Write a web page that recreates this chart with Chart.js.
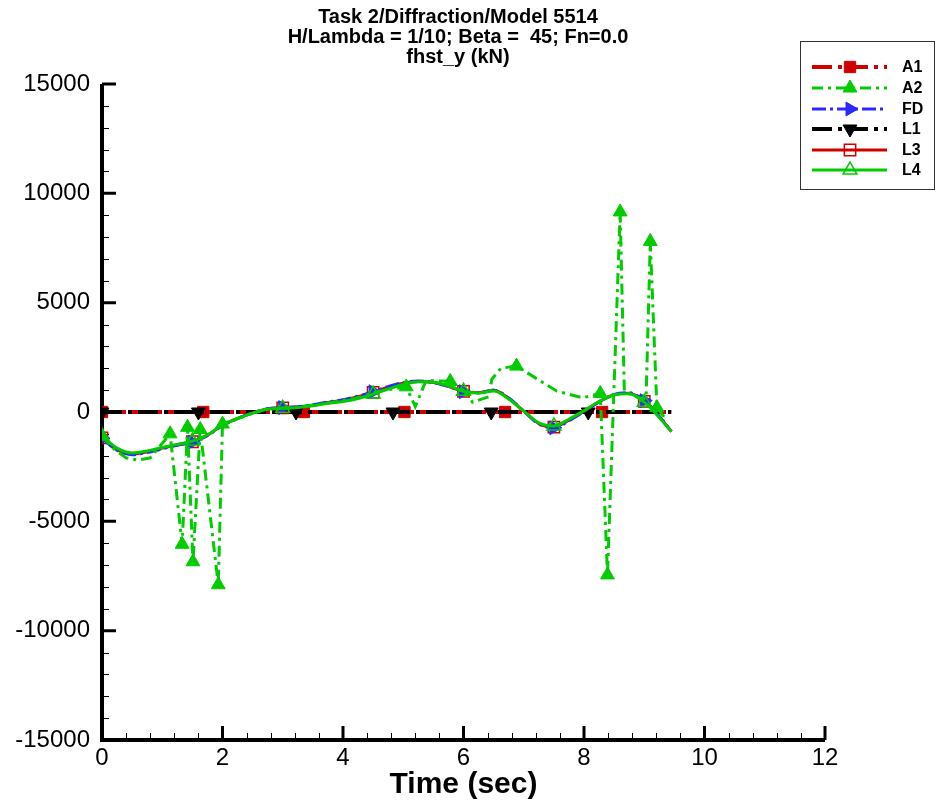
<!DOCTYPE html>
<html>
<head>
<meta charset="utf-8">
<script src="https://cdn.jsdelivr.net/npm/chart.js@4.4.1/dist/chart.umd.min.js"></script>
<style>
html,body{margin:0;padding:0;background:#fff;}
</style>
</head>
<body>
<canvas id="chart" width="937" height="805"></canvas>
<script>
const titleLines = ["Task 2/Diffraction/Model 5514", "H/Lambda = 1/10; Beta =  45; Fn=0.0", "fhst_y (kN)"];
const xTitle = "Time (sec)";
const seriesNames = ["A1", "A2", "FD", "L1", "L3", "L4"];

const xTicks = [0, 2, 4, 6, 8, 10, 12];
const yTicks = [-15000, -10000, -5000, 0, 5000, 10000, 15000];

// flat series
const tA1 = [0, 1.68, 3.35, 5.02, 6.69, 8.3, 9.45];
const valA1 = [0, 0, 0, 0, 0, 0, 0];
const tL1 = [0, 1.6, 3.22, 4.83, 6.46, 8.07, 9.45];
const valL1 = [0, 0, 0, 0, 0, 0, 0];

// A2 with the spikes
const tA2 = [0, 0.2, 0.4, 0.6, 0.8, 0.95, 1.13, 1.33, 1.42, 1.51, 1.63, 1.93, 2.0, 2.3, 2.7, 3.2, 3.7, 4.2, 4.6, 5.05,
  5.2, 5.38, 5.78, 6.0, 6.15, 6.42, 6.47, 6.62, 6.88, 7.2, 7.55, 7.98, 8.27, 8.39, 8.6, 8.67, 8.93, 9.03, 9.1, 9.21, 9.35];
const valA2 = [-1100, -1700, -2100, -2200, -2100, -1600, -1000, -6050, -700, -6850, -800, -7900, -550, -250, 120, 220, 380, 620, 950, 1150,
  250, 1450, 1400, 1000, 450, 700, 1500, 2000, 2100, 1550, 950, 650, 850, -7450, 9150, 900, 640, 600, 7800, 200, -300];

// smooth series
const tSmooth = [0, 0.25, 0.5, 0.75, 1, 1.25, 1.5, 1.75, 2, 2.25, 2.5, 2.75, 3, 3.25, 3.5, 3.75, 4, 4.25, 4.5, 4.75,
  5, 5.25, 5.5, 5.75, 6, 6.25, 6.5, 6.75, 7, 7.25, 7.5, 7.75, 8, 8.25, 8.5, 8.75, 9, 9.25, 9.45];
const valFD = [-1200, -1750, -1950, -1850, -1680, -1520, -1380, -1080, -620, -300, -40, 150, 200, 240, 330, 460, 560, 720, 930, 1160,
  1340, 1420, 1350, 1170, 930, 880, 1000, 640, 40, -550, -720, -400, 20, 460, 800, 880, 520, -200, -880];
const valL3 = [-1180, -1720, -1920, -1820, -1650, -1500, -1360, -1060, -600, -290, -40, 140, 190, 230, 310, 440, 540, 700, 900, 1130,
  1320, 1400, 1350, 1180, 940, 880, 990, 620, 40, -530, -690, -370, 40, 470, 790, 860, 490, -220, -890];
const valL4 = [-1100, -1650, -1870, -1780, -1620, -1480, -1330, -1050, -600, -300, -50, 130, 170, 200, 280, 400, 480, 620, 820, 1050,
  1260, 1380, 1360, 1200, 950, 870, 960, 600, 40, -500, -640, -330, 60, 480, 780, 830, 450, -250, -900];

const RED = "#d00000", GREEN = "#00cc00", BLUE = "#2a2aff", BLACK = "#000000";
const FONT = "'Liberation Sans', Arial, sans-serif";

function pts(ts, vs) {
  return ts.map((t, i) => ({ x: t, y: vs[i] }));
}
function every(n, len) {
  const s = new Set();
  for (let i = 0; i < len; i += n) s.add(i);
  return s;
}
function allButLast(len) {
  const s = new Set();
  for (let i = 0; i < len - 1; i++) s.add(i);
  return s;
}

const a2Marks = new Set([0, 6, 7, 8, 9, 10, 11, 12, 19, 22, 28, 32, 33, 34, 38, 39]);

function series(label, data, color, opts) {
  return Object.assign({
    label,
    data,
    borderColor: color,
    backgroundColor: color,
    pointBackgroundColor: color,
    pointBorderColor: color,
    borderWidth: 3,
    pointBorderWidth: 1,
    tension: 0,
    pointRadius: c => (c.dataset.marks.has(c.dataIndex) ? 8 : 0),
    pointHoverRadius: 0
  }, opts);
}

const datasets = [
  series(seriesNames[0], pts(tA1, valA1), RED, {
    borderDash: [20, 6, 4, 6], borderDashOffset: 6, pointStyle: "rect", marks: allButLast(tA1.length), order: 6, borderWidth: 4
  }),
  series(seriesNames[1], pts(tA2, valA2), GREEN, {
    borderDash: [11, 5, 3, 5], pointStyle: "triangle", marks: a2Marks, order: 2
  }),
  series(seriesNames[2], pts(tSmooth, valFD), BLUE, {
    borderDash: [14, 4, 3, 4], pointStyle: "triangle", pointRotation: 90, marks: every(6, tSmooth.length),
    cubicInterpolationMode: "monotone", order: 3
  }),
  series(seriesNames[3], pts(tL1, valL1), BLACK, {
    borderDash: [20, 6, 4, 6], pointStyle: "triangle", pointRotation: 180, marks: allButLast(tL1.length), order: 5, borderWidth: 4
  }),
  series(seriesNames[4], pts(tSmooth, valL3), RED, {
    pointStyle: "rect", pointBackgroundColor: "rgba(0,0,0,0)", pointBorderWidth: 1.5, marks: every(6, tSmooth.length),
    cubicInterpolationMode: "monotone", order: 4
  }),
  series(seriesNames[5], pts(tSmooth, valL4), GREEN, {
    pointStyle: "triangle", pointBackgroundColor: "rgba(0,0,0,0)", pointBorderWidth: 1.5, marks: every(6, tSmooth.length),
    cubicInterpolationMode: "monotone", order: 1
  })
];

const frame = {
  id: "frame",
  beforeDatasetsDraw(chart) {
    const { ctx, chartArea: a, scales: { x, y } } = chart;
    ctx.save();
    ctx.strokeStyle = "#000";
    ctx.lineWidth = 1;
    ctx.beginPath();
    for (let v = -15000; v <= 15000; v += 1000) {
      const py = Math.round(y.getPixelForValue(v)) + 0.5;
      ctx.moveTo(a.left, py);
      ctx.lineTo(a.left + 7, py);
    }
    for (let v = 0; v <= 12.001; v += 0.4) {
      const px = Math.round(x.getPixelForValue(v)) + 0.5;
      ctx.moveTo(px, a.bottom);
      ctx.lineTo(px, a.bottom - 7);
    }
    ctx.stroke();
    ctx.lineWidth = 3;
    ctx.beginPath();
    yTicks.forEach(v => {
      const py = y.getPixelForValue(v);
      ctx.moveTo(a.left, py);
      ctx.lineTo(a.left + 14, py);
    });
    xTicks.forEach(v => {
      const px = x.getPixelForValue(v);
      ctx.moveTo(px, a.bottom);
      ctx.lineTo(px, a.bottom - 14);
    });
    ctx.stroke();
    ctx.lineWidth = 4;
    ctx.beginPath();
    ctx.moveTo(a.left, a.top);
    ctx.lineTo(a.left, a.bottom);
    ctx.lineTo(a.right, a.bottom);
    ctx.stroke();
    ctx.restore();
  },
  afterDraw(chart) {
    const ctx = chart.ctx;
    ctx.save();
    ctx.fillStyle = "#000";
    ctx.font = "bold 20px " + FONT;
    ctx.textAlign = "center";
    ctx.textBaseline = "middle";
    titleLines.forEach((t, i) => ctx.fillText(t, 458, 17 + i * 20));

    // legend box
    ctx.lineWidth = 1;
    ctx.strokeStyle = "#333";
    ctx.strokeRect(800.5, 41.5, 134, 148);
    const rows = [67, 88, 109, 129, 150, 170];
    chart.data.datasets.forEach((ds, i) => {
      const ry = rows[i];
      ctx.save();
      ctx.strokeStyle = ds.borderColor;
      ctx.lineWidth = ds.borderWidth;
      ctx.setLineDash(ds.borderDash || []);
      ctx.beginPath();
      ctx.moveTo(812, ry);
      ctx.lineTo(887, ry);
      ctx.stroke();
      ctx.setLineDash([]);
      ctx.fillStyle = ds.pointBackgroundColor;
      ctx.strokeStyle = ds.pointBorderColor;
      ctx.lineWidth = ds.pointBorderWidth;
      Chart.helpers.drawPoint(ctx, {
        pointStyle: ds.pointStyle, rotation: ds.pointRotation || 0, radius: 8, borderWidth: ds.pointBorderWidth
      }, 850, ry);
      ctx.restore();
      ctx.fillStyle = "#000";
      ctx.font = "bold 16px " + FONT;
      ctx.textAlign = "left";
      ctx.fillText(ds.label, 902, ry + 1);
    });
    ctx.restore();
  }
};

new Chart(document.getElementById("chart"), {
  type: "line",
  data: { datasets },
  options: {
    responsive: false,
    animation: false,
    events: [],
    layout: { autoPadding: false, padding: { top: 84, right: 112, left: 0, bottom: 0 } },
    plugins: { legend: { display: false }, title: { display: false }, tooltip: { enabled: false } },
    scales: {
      x: {
        type: "linear",
        min: 0,
        max: 12,
        afterFit: s => { s.height = 65; },
        afterBuildTicks: s => { s.ticks = xTicks.map(v => ({ value: v })); },
        grid: { display: false, drawTicks: false },
        border: { display: false },
        ticks: { color: "#000", padding: 4, font: { family: FONT, size: 24 }, callback: v => String(v), maxRotation: 0 },
        title: { display: true, text: xTitle, color: "#000", font: { family: FONT, size: 30, weight: "bold" }, padding: { top: 0, bottom: 2 } }
      },
      y: {
        type: "linear",
        min: -15000,
        max: 15000,
        afterFit: s => { s.width = 102; },
        afterBuildTicks: s => { s.ticks = yTicks.map(v => ({ value: v })); },
        grid: { display: false, drawTicks: false },
        border: { display: false },
        ticks: { color: "#000", padding: 12, font: { family: FONT, size: 24 }, callback: v => String(v) }
      }
    }
  },
  plugins: [frame]
});
</script>
</body>
</html>
